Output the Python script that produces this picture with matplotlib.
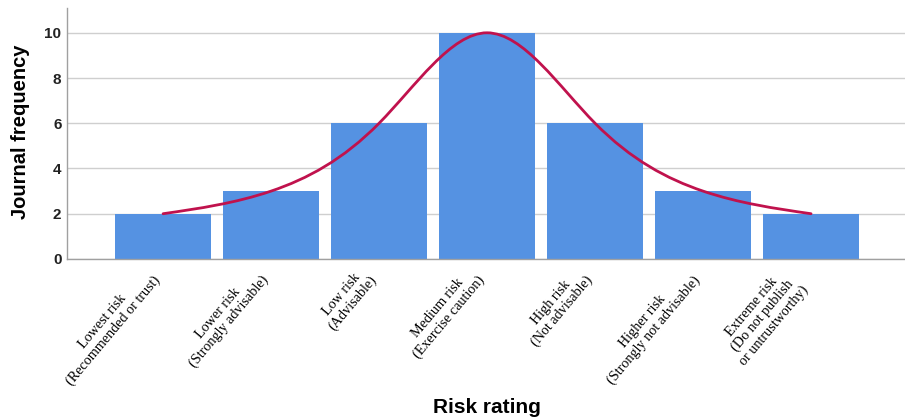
import matplotlib
matplotlib.use("Agg")
import matplotlib.pyplot as plt
import numpy as np
from matplotlib.path import Path
from matplotlib.patches import PathPatch

categories = [
    "Lowest risk\n(Recommended or trust)",
    "Lower risk\n(Strongly advisable)",
    "Low risk\n(Advisable)",
    "Medium risk\n(Exercise caution)",
    "High risk\n(Not advisable)",
    "Higher risk\n(Strongly not advisable)",
    "Extreme risk\n(Do not publish\nor untrustworthy)",
]
frequency = [2, 3, 6, 10, 6, 3, 2]
y_ticks = [0, 2, 4, 6, 8, 10]

bar_color = "#5592E2"
curve_color = "#C0124D"

fig = plt.figure(figsize=(9.05, 4.17), dpi=100)
ax = fig.add_axes([0.074, 0.379, 0.926, 0.602])

x = np.arange(len(categories))
ax.bar(x, frequency, width=0.89, color=bar_color, zorder=2)

# natural cubic spline through the bar tops, drawn as Bezier segments
yv = np.array(frequency, dtype=float)
n = len(yv)
A = np.zeros((n, n))
rhs = np.zeros(n)
A[0, 0] = A[-1, -1] = 1.0
for i in range(1, n - 1):
    A[i, i - 1], A[i, i], A[i, i + 1] = 1.0, 4.0, 1.0
    rhs[i] = 6.0 * (yv[i + 1] - 2 * yv[i] + yv[i - 1])
M = np.linalg.solve(A, rhs)
slopes = np.zeros(n)
for i in range(n - 1):
    slopes[i] = (yv[i + 1] - yv[i]) - (2 * M[i] + M[i + 1]) / 6.0
slopes[-1] = (yv[-1] - yv[-2]) + (M[-2] + 2 * M[-1]) / 6.0

verts = [(x[0], yv[0])]
codes = [Path.MOVETO]
for i in range(n - 1):
    verts += [(x[i] + 1 / 3, yv[i] + slopes[i] / 3),
              (x[i + 1] - 1 / 3, yv[i + 1] - slopes[i + 1] / 3),
              (x[i + 1], yv[i + 1])]
    codes += [Path.CURVE4] * 3
ax.add_patch(PathPatch(Path(verts, codes), facecolor="none",
                       edgecolor=curve_color, lw=2.0, zorder=3,
                       capstyle="round"))

ax.set_xlim(-0.89, 6.87)
ax.set_ylim(0, 11.1)
ax.set_yticks(y_ticks)
ax.yaxis.grid(True, color="#CFCFCF", lw=1.0, zorder=0)
ax.set_axisbelow(True)
for s in ["top", "right"]:
    ax.spines[s].set_visible(False)
for s in ["left", "bottom"]:
    ax.spines[s].set_color("#A0A0A0")
    ax.spines[s].set_linewidth(1.0)
ax.tick_params(axis="y", length=0, pad=4, labelsize=11, labelcolor="#222222")
ax.tick_params(axis="x", length=0, pad=4)
for lab in ax.get_yticklabels():
    lab.set_family("Liberation Sans")
    lab.set_fontweight("bold")

ax.set_xticks(x)
ax.set_xticklabels(categories, rotation=50, ha="right", va="top",
                   multialignment="center", family="Liberation Serif",
                   fontsize=10.2, linespacing=1.1)

ax.set_ylabel("Journal frequency", family="Liberation Sans",
              fontweight="bold", fontsize=14.5, va="center")
ax.yaxis.set_label_coords(-0.055, 0.506)
fig.text(0.5376, 0.0, "Risk rating", family="Liberation Sans",
         fontweight="bold", fontsize=15, ha="center", va="bottom")

fig.savefig("out.png", dpi=100)
